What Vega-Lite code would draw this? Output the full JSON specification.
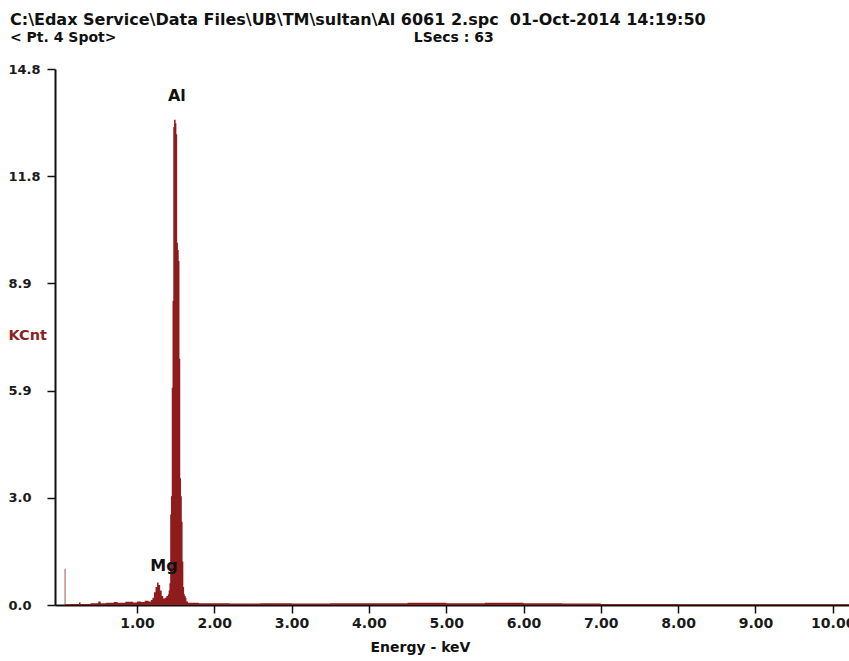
{
  "$schema": "https://vega.github.io/schema/vega-lite/v6.json",
  "width": 794,
  "height": 536,
  "autosize": {"type": "none"},
  "padding": {"left": 55, "top": 69, "right": 0, "bottom": 56},
  "background": "white",
  "title": {
    "text": "C:\\Edax Service\\Data Files\\UB\\TM\\sultan\\Al 6061 2.spc\u00a0\u00a001-Oct-2014 14:19:50",
    "subtitle": "< Pt.\u00a04 Spot>\u00a0\u00a0\u00a0\u00a0\u00a0\u00a0\u00a0\u00a0\u00a0\u00a0\u00a0\u00a0\u00a0\u00a0\u00a0\u00a0\u00a0\u00a0\u00a0\u00a0\u00a0\u00a0\u00a0\u00a0\u00a0\u00a0\u00a0\u00a0\u00a0\u00a0\u00a0\u00a0\u00a0\u00a0\u00a0\u00a0\u00a0\u00a0\u00a0\u00a0\u00a0\u00a0\u00a0\u00a0\u00a0\u00a0\u00a0\u00a0\u00a0\u00a0\u00a0\u00a0\u00a0\u00a0\u00a0\u00a0\u00a0\u00a0\u00a0\u00a0\u00a0LSecs :\u00a063",
    "anchor": "start",
    "frame": "group",
    "dx": -45,
    "offset": 18,
    "font": "DejaVu Sans",
    "fontSize": 16,
    "fontWeight": "bold",
    "color": "#111111",
    "subtitleFont": "DejaVu Sans",
    "subtitleFontSize": 14,
    "subtitleFontWeight": "bold",
    "subtitleColor": "#111111",
    "subtitlePadding": 3
  },
  "config": {
    "view": {"stroke": null},
    "axis": {
      "grid": false,
      "domainColor": "#111111",
      "domainWidth": 2,
      "tickColor": "#111111",
      "tickWidth": 1.5,
      "tickSize": 8,
      "labelFont": "DejaVu Sans",
      "labelFontWeight": "bold",
      "labelColor": "#1a1a1a",
      "titleFont": "DejaVu Sans",
      "titleFontWeight": "bold"
    }
  },
  "datasets": {
    "spectrum": [
      {"energy": 0.0, "kcnt": 0.0},
      {"energy": 0.065, "kcnt": 1.0},
      {"energy": 0.075, "kcnt": 0.02},
      {"energy": 0.15, "kcnt": 0.03},
      {"energy": 0.25, "kcnt": 0.07},
      {"energy": 0.27, "kcnt": 0.03},
      {"energy": 0.4, "kcnt": 0.05},
      {"energy": 0.5, "kcnt": 0.1},
      {"energy": 0.53, "kcnt": 0.05},
      {"energy": 0.6, "kcnt": 0.06},
      {"energy": 0.7, "kcnt": 0.08},
      {"energy": 0.75, "kcnt": 0.06},
      {"energy": 0.85, "kcnt": 0.09},
      {"energy": 0.95, "kcnt": 0.07},
      {"energy": 1.0, "kcnt": 0.1},
      {"energy": 1.05, "kcnt": 0.08},
      {"energy": 1.1, "kcnt": 0.12},
      {"energy": 1.15, "kcnt": 0.1},
      {"energy": 1.18, "kcnt": 0.14},
      {"energy": 1.2, "kcnt": 0.2},
      {"energy": 1.22, "kcnt": 0.35},
      {"energy": 1.24, "kcnt": 0.5},
      {"energy": 1.26, "kcnt": 0.62},
      {"energy": 1.28, "kcnt": 0.55},
      {"energy": 1.3, "kcnt": 0.4},
      {"energy": 1.32, "kcnt": 0.25},
      {"energy": 1.34, "kcnt": 0.18},
      {"energy": 1.36, "kcnt": 0.2},
      {"energy": 1.38, "kcnt": 0.25},
      {"energy": 1.4, "kcnt": 0.3},
      {"energy": 1.41, "kcnt": 0.4},
      {"energy": 1.42, "kcnt": 0.6},
      {"energy": 1.43, "kcnt": 2.5},
      {"energy": 1.44, "kcnt": 3.0},
      {"energy": 1.45, "kcnt": 6.0},
      {"energy": 1.46, "kcnt": 8.4},
      {"energy": 1.47, "kcnt": 13.2},
      {"energy": 1.48, "kcnt": 13.4},
      {"energy": 1.49, "kcnt": 13.4},
      {"energy": 1.5, "kcnt": 13.3},
      {"energy": 1.51, "kcnt": 13.0},
      {"energy": 1.52, "kcnt": 10.0},
      {"energy": 1.53, "kcnt": 9.8},
      {"energy": 1.54, "kcnt": 9.5},
      {"energy": 1.55, "kcnt": 6.8},
      {"energy": 1.56, "kcnt": 3.5},
      {"energy": 1.57, "kcnt": 3.0},
      {"energy": 1.58, "kcnt": 2.3},
      {"energy": 1.59, "kcnt": 1.2},
      {"energy": 1.6, "kcnt": 0.5},
      {"energy": 1.61, "kcnt": 0.3},
      {"energy": 1.62, "kcnt": 0.25},
      {"energy": 1.63, "kcnt": 0.2},
      {"energy": 1.64, "kcnt": 0.1},
      {"energy": 1.66, "kcnt": 0.06},
      {"energy": 1.8, "kcnt": 0.05},
      {"energy": 2.2, "kcnt": 0.04},
      {"energy": 2.6, "kcnt": 0.05},
      {"energy": 3.0, "kcnt": 0.04},
      {"energy": 3.5, "kcnt": 0.05},
      {"energy": 4.0, "kcnt": 0.05},
      {"energy": 4.5, "kcnt": 0.06},
      {"energy": 5.0, "kcnt": 0.05},
      {"energy": 5.5, "kcnt": 0.06},
      {"energy": 6.0, "kcnt": 0.05},
      {"energy": 6.5, "kcnt": 0.04},
      {"energy": 7.0, "kcnt": 0.03},
      {"energy": 7.5, "kcnt": 0.03},
      {"energy": 8.0, "kcnt": 0.02},
      {"energy": 9.0, "kcnt": 0.02},
      {"energy": 10.21, "kcnt": 0.02}
    ],
    "labels": [
      {"energy": 1.517, "kcnt": 13.82, "element": "Al"},
      {"energy": 1.35, "kcnt": 0.86, "element": "Mg"}
    ]
  },
  "layer": [
    {
      "data": {"name": "spectrum"},
      "mark": {"type": "area", "interpolate": "step-after", "color": "#8f1c1c", "opacity": 1},
      "encoding": {
        "x": {
          "field": "energy",
          "type": "quantitative",
          "scale": {"domain": [-0.06, 10.21], "nice": false, "zero": false},
          "axis": {
            "values": [1, 2, 3, 4, 5, 6, 7, 8, 9, 10],
            "format": ".2f",
            "labelFontSize": 14,
            "labelPadding": 3,
            "labelFlush": false,
            "labelOverlap": false,
            "title": "Energy - keV",
            "titleFontSize": 14,
            "titleColor": "#111111",
            "titleX": 365,
            "titleY": 46,
            "titleBaseline": "alphabetic",
            "titleAlign": "center"
          }
        },
        "y": {
          "field": "kcnt",
          "type": "quantitative",
          "scale": {"domain": [0, 14.8], "nice": false},
          "axis": {
            "values": [0, 2.96, 5.92, 8.88, 11.84, 14.8],
            "format": ".1f",
            "labelFontSize": 13,
            "labelAlign": "left",
            "labelBaseline": "middle",
            "labelPadding": 39,
            "title": "KCnt",
            "titleFontSize": 14.5,
            "titleColor": "#8b2222",
            "titleAngle": 0,
            "titleAlign": "left",
            "titleBaseline": "middle",
            "titleX": -47,
            "titleY": 266
          }
        }
      }
    },
    {
      "data": {"name": "labels"},
      "mark": {"type": "text", "font": "DejaVu Sans", "fontWeight": "bold", "fontSize": 16, "baseline": "bottom", "color": "#111111"},
      "encoding": {
        "x": {"field": "energy", "type": "quantitative"},
        "y": {"field": "kcnt", "type": "quantitative"},
        "text": {"field": "element"}
      }
    }
  ]
}
